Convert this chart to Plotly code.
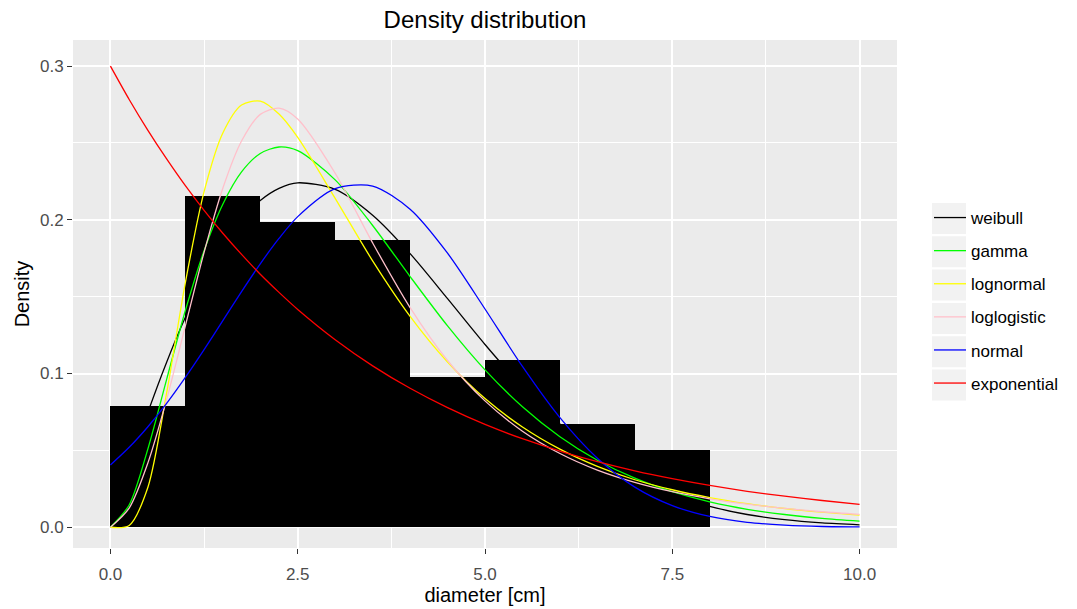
import plotly.graph_objects as go

# Histogram (density) bins
bin_centers = [0.5, 1.5, 2.5, 3.5, 4.5, 5.5, 6.5, 7.5]
bin_density = [0.079, 0.2155, 0.1985, 0.187, 0.0975, 0.1085, 0.0675, 0.0505]

# Fitted density curves
x_grid = [0, 0.25, 0.5, 0.75, 1, 1.25, 1.5, 1.75, 2, 2.25, 2.5, 3, 3.5, 4, 4.5, 5,
          5.5, 6, 6.5, 7, 7.5, 8, 8.5, 9, 9.5, 10]
weibull = [0, 0.0393, 0.0748, 0.1074, 0.1366, 0.1621, 0.1834, 0.2002, 0.2126, 0.2205,
           0.2241, 0.2198, 0.2030, 0.1780, 0.1487, 0.1189, 0.0913, 0.0672, 0.0476,
           0.0325, 0.0214, 0.0136, 0.0083, 0.0049, 0.0028, 0.0016]
gamma = [0, 0.0145, 0.0510, 0.0962, 0.1410, 0.1799, 0.2102, 0.2312, 0.2432, 0.2474,
         0.2450, 0.2260, 0.1963, 0.1631, 0.1310, 0.1024, 0.0784, 0.0589, 0.0436,
         0.0319, 0.0231, 0.0165, 0.0117, 0.0083, 0.0058, 0.0040]
lognormal = [0, 0.0012, 0.0260, 0.0874, 0.1592, 0.2183, 0.2565, 0.2747, 0.2772, 0.2688,
             0.2536, 0.2140, 0.1733, 0.1372, 0.1075, 0.0837, 0.0652, 0.0508, 0.0396,
             0.0309, 0.0244, 0.0193, 0.0153, 0.0122, 0.0098, 0.0079]
loglogistic = [0, 0.0125, 0.0419, 0.0832, 0.1310, 0.1789, 0.2206, 0.2513, 0.2686, 0.2727,
               0.2656, 0.2303, 0.1850, 0.1429, 0.1085, 0.0822, 0.0625, 0.0480, 0.0372,
               0.0292, 0.0231, 0.0185, 0.0150, 0.0123, 0.0101, 0.0084]
normal = [0.0405, 0.0520, 0.0654, 0.0806, 0.0975, 0.1156, 0.1344, 0.1533, 0.1714, 0.1879,
          0.2021, 0.2203, 0.2220, 0.2069, 0.1783, 0.1420, 0.1046, 0.0713, 0.0449,
          0.0261, 0.0141, 0.0070, 0.0032, 0.0014, 0.0005, 0.0002]
exponential = [0.300, 0.2783, 0.2582, 0.2396, 0.2222, 0.2062, 0.1913, 0.1775, 0.1646, 0.1528,
               0.1417, 0.1220, 0.1050, 0.0904, 0.0778, 0.0669, 0.0576, 0.0496, 0.0427,
               0.0367, 0.0316, 0.0272, 0.0234, 0.0202, 0.0174, 0.0149]

series_names = ["weibull", "gamma", "lognormal", "loglogistic", "normal", "exponential"]
series_values = [weibull, gamma, lognormal, loglogistic, normal, exponential]
series_colors = ["#000000", "#00FF00", "#FFFF00", "#FFC0CB", "#0000FF", "#FF0000"]

x_ticks = [0, 2.5, 5, 7.5, 10]
y_ticks = [0, 0.1, 0.2, 0.3]

FONT = "Liberation Sans, Arial, sans-serif"

fig = go.Figure()
fig.add_trace(go.Bar(x=bin_centers, y=bin_density, width=1,
                     marker=dict(color="black", line=dict(width=0)),
                     showlegend=False, hoverinfo="skip"))

for name, vals, col in zip(series_names, series_values, series_colors):
    fig.add_trace(go.Scatter(x=x_grid, y=vals, mode="lines", name=name,
                             legendgroup=name,
                             line=dict(color=col, width=1.3, shape="spline", smoothing=0.8)))

# The page body has an 8px margin; work in page pixels and offset.
OFF = 8
W, H = 1077 - OFF, 609 - OFF
PL, PR, PT, PB = 73, 897, 40, 548   # panel edges in page pixels
L, R, T, B = PL - OFF, W - (PR - OFF), PT - OFF, H - (PB - OFF)
pw, ph = W - L - R, H - T - B
def px2x(px):
    return (px - OFF - L) / pw
def py2y(py):
    return (H - B - (py - OFF)) / ph

shapes = []
for i in range(len(series_names)):
    top = 203 + i * 33.3
    shapes.append(dict(type="rect", xref="paper", yref="paper",
                       x0=px2x(932), x1=px2x(966), y0=py2y(top + 31), y1=py2y(top),
                       fillcolor="#F2F2F2", line=dict(width=0), layer="below"))

fig.update_layout(
    width=W, height=H,
    margin=dict(l=L, r=R, t=T, b=B, autoexpand=False),
    paper_bgcolor="white",
    plot_bgcolor="#EBEBEB",
    font=dict(family=FONT, color="black"),
    title=dict(text="Density distribution", x=(L + pw / 2) / W, xanchor="center",
               yref="container", y=1, yanchor="top", pad=dict(t=3),
               font=dict(size=24, color="black", family=FONT)),
    bargap=0,
    shapes=shapes,
    legend=dict(x=px2x(929), xanchor="left", y=py2y(200), yanchor="top",
                bgcolor="rgba(0,0,0,0)", font=dict(size=17, color="black"),
                tracegroupgap=8, itemwidth=32),
    xaxis=dict(range=[-0.5, 10.5], tickvals=x_ticks, tickformat=".1f", automargin=False,
               showgrid=True, gridcolor="white", gridwidth=1.6,
               minor=dict(dtick=1.25, tick0=0, gridcolor="white", gridwidth=0.7, showgrid=True),
               ticks="outside", ticklen=5, tickcolor="#333333", tickwidth=1,
               ticklabelstandoff=6,
               tickfont=dict(size=17, color="#4D4D4D"),
               title=dict(text="diameter [cm]", font=dict(size=20, color="black"), standoff=4),
               zeroline=False, showline=False),
    yaxis=dict(range=[-0.0135, 0.317], tickvals=y_ticks, tickformat=".1f", automargin=False,
               showgrid=True, gridcolor="white", gridwidth=1.6,
               minor=dict(dtick=0.05, tick0=0, gridcolor="white", gridwidth=0.7, showgrid=True),
               ticks="outside", ticklen=5, tickcolor="#333333", tickwidth=1,
               tickfont=dict(size=17, color="#4D4D4D"),
               title=dict(text="Density", font=dict(size=20, color="black"), standoff=4),
               zeroline=False, showline=False),
)

fig.write_html("out.html")
